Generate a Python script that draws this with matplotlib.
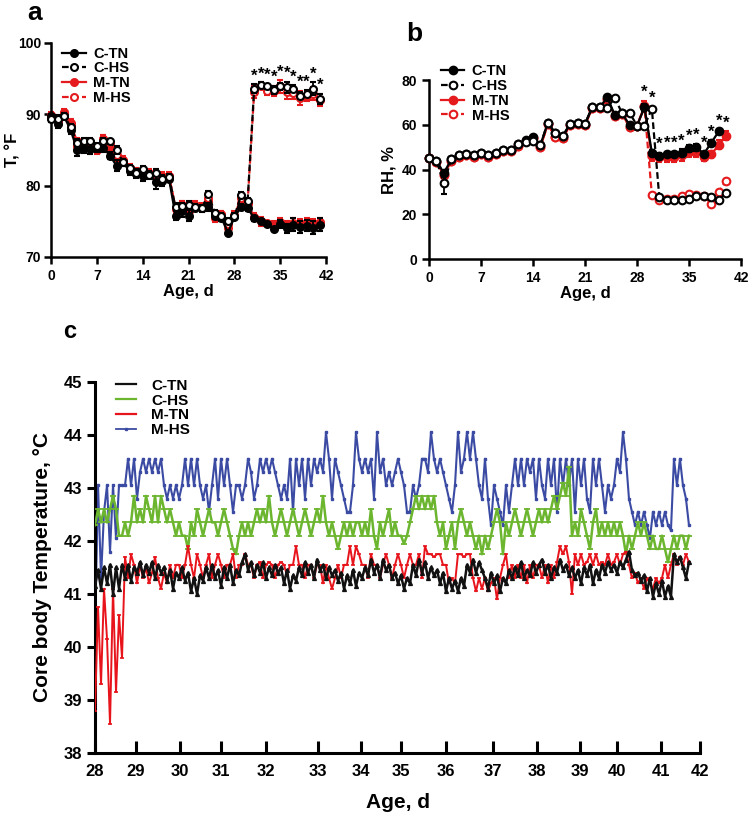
import numpy as np
import matplotlib.pyplot as plt
from matplotlib.lines import Line2D

plt.rcParams['font.family'] = ['Liberation Sans', 'DejaVu Sans']
plt.rcParams['font.weight'] = 'bold'
plt.rcParams['axes.labelweight'] = 'bold'

# ---- panel a: air temperature, F ----
days_a = list(range(42))
ctn_a = [89.7, 88.7, 89.7, 87.8, 85.0, 85.3, 85.2, 85.3, 85.3, 84.2, 82.8, 83.3, 82.0, 81.7,
         81.3, 81.5, 80.5, 80.7, 81.0, 75.8, 76.5, 75.8, 76.8, 76.8, 77.0, 75.8, 75.5, 73.4,
         75.6, 77.0, 76.9, 75.4, 75.0, 74.6, 73.9, 74.6, 74.0, 74.5, 74.2, 74.4, 74.1, 74.5]
chs_a = [89.3, 89.4, 89.8, 88.2, 86.0, 86.3, 86.3, 85.5, 86.3, 86.2, 85.0, 83.3, 82.5, 81.8,
         82.3, 81.5, 81.8, 81.0, 81.2, 77.0, 77.1, 77.3, 77.0, 76.8, 78.8, 76.2, 75.7, 75.0,
         75.7, 78.7, 77.8, 93.6, 94.1, 93.9, 93.4, 93.9, 93.8, 93.6, 92.6, 92.9, 93.6, 92.2]
mtn_a = [89.9, 89.2, 90.3, 88.8, 85.6, 85.5, 85.6, 85.0, 86.5, 85.5, 84.0, 83.6, 82.5, 82.0,
         81.6, 81.8, 81.2, 81.3, 81.4, 76.7, 77.3, 76.5, 77.3, 77.0, 77.8, 75.5, 76.0, 74.0,
         75.9, 77.6, 77.5, 75.6, 75.0, 74.7, 74.6, 74.9, 74.5, 74.8, 74.7, 74.9, 74.7, 74.9]
mhs_a = [89.5, 89.0, 90.1, 88.5, 86.2, 86.0, 86.1, 85.2, 86.6, 86.0, 84.3, 83.5, 82.4, 81.9,
         82.1, 81.7, 81.5, 81.2, 81.3, 76.9, 77.3, 77.0, 77.2, 76.9, 78.3, 75.9, 75.9, 74.6,
         75.8, 78.3, 77.6, 93.1, 94.0, 93.3, 93.2, 93.9, 93.1, 93.0, 92.3, 92.6, 92.9, 92.0]
ctn_a_err = [0.4, 0.6, 0.5, 0.5, 0.8, 0.7, 0.8, 0.6, 0.6, 0.5, 0.8, 0.5, 0.5, 0.6, 0.6, 0.5,
             0.9, 0.7, 0.4, 0.6, 0.9, 0.8, 0.4, 0.5, 0.6, 0.5, 0.4, 0.3, 0.4, 0.4, 0.4, 0.4,
             0.3, 0.3, 0.3, 0.6, 0.6, 0.9, 0.9, 0.8, 0.9, 0.9]
chs_a_err = [0.4, 0.5, 0.4, 0.5, 0.5, 0.4, 0.4, 0.5, 0.4, 0.4, 0.5, 0.5, 0.4, 0.4, 0.4, 0.4,
             0.5, 0.5, 0.4, 0.5, 0.5, 0.5, 0.4, 0.4, 0.4, 0.4, 0.4, 0.4, 0.4, 0.4, 0.4, 0.6,
             0.4, 0.4, 0.6, 0.5, 0.8, 0.5, 0.5, 0.5, 0.9, 0.7]
mtn_a_err = [0.4, 0.5, 0.5, 0.6, 0.6, 0.6, 0.7, 0.6, 0.6, 0.6, 0.6, 0.5, 0.5, 0.5, 0.5, 0.5,
             0.6, 0.6, 0.5, 0.6, 0.6, 0.6, 0.5, 0.5, 0.6, 0.6, 0.5, 0.5, 0.5, 0.5, 0.5, 0.6,
             0.6, 0.4, 0.4, 0.6, 0.6, 0.6, 0.6, 0.6, 0.6, 0.6]
mhs_a_err = [0.4, 0.5, 0.5, 0.5, 0.5, 0.5, 0.5, 0.5, 0.5, 0.5, 0.5, 0.5, 0.5, 0.5, 0.5, 0.5,
             0.5, 0.5, 0.5, 0.5, 0.5, 0.5, 0.5, 0.5, 0.5, 0.5, 0.5, 0.5, 0.5, 0.5, 0.5, 0.8,
             0.5, 0.6, 0.7, 0.9, 0.9, 0.8, 1.0, 0.7, 0.9, 0.9]
star_days_a = list(range(31, 42))

# ---- panel b: relative humidity, % ----
days_b = list(range(41))
nan = float('nan')
ctn_b = [45.0, 44.0, 38.4, 44.6, 46.4, 47.0, 46.5, 47.3, 46.5, 47.3, 48.8, 48.8, 51.3, 53.2,
         54.4, 51.0, 61.0, 56.2, 55.0, 60.4, 60.7, 60.4, 68.1, 67.8, 72.3, 64.4, 65.1, 59.9,
         59.6, 67.8, 47.6, 46.1, 47.0, 47.0, 47.6, 49.5, 50.0, 47.0, 52.0, 57.0, nan]
chs_b = [45.0, 44.0, 34.0, 44.6, 46.4, 47.0, 46.5, 47.3, 46.5, 47.3, 48.8, 48.8, 51.3, 52.2,
         52.6, 51.0, 61.0, 56.2, 55.0, 60.4, 60.7, 60.4, 68.1, 67.8, 67.5, 72.1, 65.1, 65.4,
         59.6, 59.6, 67.1, 27.7, 26.5, 26.5, 26.5, 27.0, 28.0, 28.0, 27.7, 26.3, 29.7]
mtn_b = [45.0, 43.5, 37.5, 44.0, 45.5, 46.5, 45.5, 47.0, 45.8, 47.0, 48.3, 48.5, 50.5, 52.8,
         54.0, 50.0, 60.5, 54.5, 54.0, 60.0, 60.4, 60.0, 67.5, 67.5, 71.5, 64.0, 64.8, 59.0,
         59.5, 68.2, 46.0, 45.5, 45.5, 45.5, 46.5, 48.0, 48.0, 45.5, 46.8, 51.0, 55.0]
mhs_b = [45.0, 43.5, 37.5, 44.0, 45.5, 46.5, 45.5, 47.0, 45.8, 47.0, 48.3, 48.5, 50.5, 52.8,
         54.0, 50.0, 60.5, 54.5, 54.0, 60.0, 60.4, 60.0, 67.5, 67.5, 71.5, 64.0, 64.8, 59.0,
         59.5, 68.2, 28.7, 26.5, 27.0, 27.0, 28.0, 29.0, 28.5, 28.0, 24.8, 30.0, 35.0]
ctn_b_err = [0.5, 0.5, 1.0, 0.5, 0.5, 0.5, 0.5, 0.5, 0.5, 0.5, 0.5, 0.5, 0.5, 0.5, 0.5, 0.5,
             0.8, 0.5, 0.5, 0.5, 0.5, 0.5, 0.5, 0.5, 0.5, 0.5, 0.5, 0.5, 0.5, 1.5, 1.0, 1.5,
             1.0, 1.0, 1.5, 1.5, 1.5, 1.0, 1.0, 1.0, nan]
chs_b_err = [0.5, 0.5, 5.0, 0.5, 0.5, 0.5, 0.5, 0.5, 0.5, 0.5, 0.5, 0.5, 0.5, 0.5, 0.5, 0.5,
             0.5, 0.5, 0.5, 0.5, 0.5, 0.5, 0.5, 0.5, 0.5, 0.5, 0.5, 0.5, 0.5, 0.5, 1.0, 0.8,
             0.5, 0.5, 0.5, 0.8, 0.5, 0.5, 1.0, 0.5, 0.8]
mtn_b_err = [0.5, 0.5, 1.0, 0.5, 0.5, 0.5, 0.5, 0.5, 0.5, 0.5, 0.5, 0.5, 0.5, 0.5, 0.5, 0.5,
             0.8, 0.5, 0.5, 0.5, 0.5, 0.5, 0.5, 0.5, 0.5, 0.5, 0.5, 0.5, 0.5, 2.5, 2.0, 2.0,
             2.0, 2.0, 2.5, 2.5, 2.5, 1.5, 1.5, 2.0, 2.0]
mhs_b_err = [0.5, 0.5, 1.0, 0.5, 0.5, 0.5, 0.5, 0.5, 0.5, 0.5, 0.5, 0.5, 0.5, 0.5, 0.5, 0.5,
             0.5, 0.5, 0.5, 0.5, 0.5, 0.5, 0.5, 0.5, 0.5, 0.5, 0.5, 0.5, 0.5, 0.5, 1.0, 0.8,
             0.8, 0.8, 0.8, 0.8, 0.8, 0.8, 1.5, 0.8, 0.8]
star_days_b = list(range(29, 41))

# ---- panel c: core body temperature, C (one reading every ~1.7 h) ----
ctn_c = [41.15, 41.45, 41.1, 41.5, 41.2, 41.55, 41.0, 41.5, 41.1, 41.55,
         41.3, 41.55, 41.25, 41.5, 41.4, 41.6, 41.35, 41.55, 41.4, 41.6,
         41.3, 41.55, 41.4, 41.5, 41.25, 41.45, 41.1, 41.4, 41.3, 41.5,
         41.25, 41.4, 41.05, 41.3, 41.0, 41.35, 41.25, 41.5, 41.3, 41.55,
         41.3, 41.45, 41.15, 41.5, 41.3, 41.55, 41.2, 41.45, 41.35, 41.6,
         41.75, 41.45, 41.6, 41.35, 41.55, 41.4, 41.6, 41.3, 41.5, 41.35,
         41.55, 41.4, 41.5, 41.2, 41.45, 41.1, 41.35, 41.25, 41.5, 41.35,
         41.6, 41.4, 41.55, 41.3, 41.65, 41.45, 41.55, 41.3, 41.5, 41.35,
         41.45, 41.25, 41.4, 41.1, 41.35, 41.2, 41.45, 41.15, 41.4, 41.3,
         41.5, 41.35, 41.65, 41.4, 41.55, 41.3, 41.65, 41.45, 41.55, 41.3,
         41.4, 41.2, 41.35, 41.1, 41.3, 41.2, 41.55, 41.35, 41.65, 41.4,
         41.6, 41.3, 41.5, 41.35, 41.45, 41.2, 41.4, 41.05, 41.3, 41.1,
         41.25, 41.05, 41.3, 41.15, 41.55, 41.4, 41.65, 41.4, 41.6, 41.45,
         41.3, 41.1, 41.4, 41.2, 41.35, 41.05, 41.3, 41.2, 41.45, 41.3,
         41.5, 41.35, 41.6, 41.3, 41.45, 41.35, 41.6, 41.4, 41.55, 41.65,
         41.4, 41.55, 41.3, 41.5, 41.4, 41.65, 41.45, 41.55, 41.35, 41.5,
         41.3, 41.45, 41.2, 41.5, 41.35, 41.55, 41.2, 41.45, 41.3, 41.55,
         41.4, 41.6, 41.45, 41.55, 41.4, 41.6, 41.5, 41.65, 41.8, 41.45,
         41.35, 41.4, 41.25, 41.35, 41.05, 41.3, 40.95, 41.2, 41.0, 41.25,
         40.95, 41.15, 40.95, 41.75, 41.6, 41.7, 41.5, 41.3, 41.6]
chs_c = [42.3, 42.6, 42.35, 42.6, 42.35, 42.6, 42.85, 42.6, 42.1, 42.1,
         42.35, 42.1, 42.35, 42.85, 42.35, 42.6, 42.35, 42.85, 42.6, 42.35,
         42.85, 42.35, 42.85, 42.6, 42.35, 42.6, 42.35, 42.1, 42.35, 42.1,
         42.1, 41.85, 42.35, 42.1, 42.6, 42.35, 42.1, 42.35, 42.6, 42.35,
         42.35, 42.1, 42.35, 42.6, 42.35, 42.1, 41.85, 41.75, 42.1, 42.35,
         42.1, 42.35, 42.1, 42.35, 42.6, 42.35, 42.6, 42.35, 42.85, 42.35,
         42.1, 42.35, 42.6, 42.35, 42.1, 42.35, 42.6, 42.35, 42.1, 42.35,
         42.6, 42.35, 42.1, 42.35, 42.6, 42.35, 42.85, 42.35, 42.1, 42.35,
         42.1, 41.85, 42.1, 42.35, 42.1, 42.35, 42.1, 42.35, 42.35, 42.1,
         42.35, 42.1, 42.6, 42.1, 41.85, 42.35, 42.1, 42.35, 42.6, 42.1,
         42.35, 42.1, 42.1, 41.95, 42.1, 42.35, 42.6, 42.85, 42.6, 42.85,
         42.6, 42.85, 42.6, 42.85, 42.35, 42.1, 42.35, 41.85, 42.1, 42.35,
         41.85, 42.35, 42.6, 42.35, 42.1, 42.35, 42.1, 41.85, 42.1, 41.75,
         42.1, 41.85, 42.1, 42.35, 42.6, 42.35, 41.75, 42.35, 42.1, 42.35,
         42.6, 42.35, 42.1, 42.35, 42.6, 42.35, 42.1, 42.35, 42.6, 42.35,
         42.6, 42.35, 42.6, 42.85, 42.6, 42.85, 43.1, 42.85, 43.4, 42.1,
         42.35, 42.1, 42.6, 42.35, 42.1, 41.85, 42.35, 42.6, 42.1, 42.35,
         42.1, 42.35, 42.1, 42.35, 42.1, 42.35, 42.1, 41.75, 42.1, 41.85,
         42.1, 42.35, 42.1, 42.35, 42.1, 41.85, 42.1, 41.85, 41.85, 42.1,
         41.85, 41.6, 41.85, 42.1, 41.85, 42.1, 42.1, 41.85, 42.1]
mtn_c = [38.8, 40.75, 39.3, 41.1, 40.15, 38.55, 41.1, 39.15, 40.6, 39.8,
         41.7, 41.3, 41.75, 41.55, 41.2, 41.55, 41.3, 41.5, 41.2, 41.4,
         41.7, 41.3, 41.1, 41.4, 41.2, 41.55, 41.3, 41.55, 41.55, 41.3,
         41.55, 41.9, 41.55, 41.3, 41.75, 41.55, 41.3, 41.55, 41.75, 41.3,
         41.55, 41.75, 41.55, 41.3, 41.55, 41.55, 41.75, 41.3, 41.55, 41.55,
         41.75, 41.55, 41.55, 41.3, 41.55, 41.6, 41.3, 41.55, 41.6, 41.55,
         41.3, 41.55, 41.6, 41.55, 41.35, 41.55, 41.55, 41.9, 41.55, 41.55,
         41.3, 41.55, 41.55, 41.3, 41.55, 41.55, 41.2, 41.55, 41.3, 41.1,
         41.3, 41.55, 41.3, 41.55, 41.55, 41.9, 41.55, 41.9, 41.75, 41.55,
         41.55, 41.3, 41.75, 41.55, 41.55, 41.3, 41.55, 41.75, 41.55, 41.3,
         41.55, 41.75, 41.55, 41.3, 41.55, 41.75, 41.55, 41.55, 41.75, 41.3,
         41.9, 41.75, 41.75, 41.7, 41.75, 41.75, 41.55, 41.55, 41.2, 41.3,
         41.2, 41.75, 41.75, 41.7, 41.75, 41.75, 41.3, 41.05, 41.3, 41.1,
         41.3, 41.05, 41.2, 41.3, 40.9, 41.3, 41.55, 41.75, 41.3, 41.55,
         41.3, 41.55, 41.3, 41.55, 41.2, 41.55, 41.3, 41.55, 41.55, 41.3,
         41.55, 41.2, 41.55, 41.3, 41.6, 41.9, 41.75, 41.9, 41.6, 41.0,
         41.75, 41.55, 41.75, 41.55, 41.6, 41.75, 41.55, 41.75, 41.55, 41.6,
         41.55, 41.75, 41.55, 41.6, 41.75, 41.55, 41.75, 41.8, 41.55, 41.3,
         41.4, 41.2, 41.3, 41.1, 41.3, 41.2, 41.1, 41.3, 41.2, 41.3,
         41.55, 41.3, 41.55, 41.75, 41.55, 41.7, 41.55, 41.75, 41.6]
mhs_c = [40.3, 43.05, 41.3, 42.55, 43.05, 41.8, 43.05, 42.05, 43.05, 43.05,
         43.05, 43.55, 43.05, 43.55, 42.8, 43.3, 43.55, 43.3, 43.55, 43.3,
         43.55, 43.3, 43.55, 43.05, 42.8, 43.05, 42.8, 43.05, 42.8, 43.05,
         43.55, 43.05, 43.55, 43.05, 43.55, 43.05, 42.8, 43.05, 42.55, 43.05,
         43.55, 42.8, 43.55, 43.05, 43.55, 43.05, 42.55, 43.05, 43.05, 42.8,
         43.05, 43.55, 43.3, 42.8, 43.05, 43.55, 43.3, 43.55, 43.3, 43.55,
         43.3, 43.05, 42.8, 43.05, 42.8, 43.55, 42.55, 43.55, 43.05, 43.55,
         42.8, 43.55, 43.05, 43.55, 43.3, 43.55, 43.3, 44.05, 43.55, 42.8,
         43.55, 43.3, 43.05, 42.8, 42.55, 42.55, 43.05, 44.05, 43.55, 43.3,
         43.55, 43.3, 43.55, 42.8, 44.05, 43.3, 43.55, 43.05, 43.3, 43.05,
         43.3, 43.55, 43.3, 43.05, 42.55, 42.55, 43.05, 42.8, 43.05, 43.55,
         43.55, 43.3, 44.05, 43.55, 43.3, 43.55, 43.3, 43.05, 42.8, 42.55,
         43.05, 44.05, 43.3, 43.55, 44.05, 43.55, 44.05, 43.55, 43.05, 42.8,
         43.55, 42.8, 42.3, 43.05, 42.8, 42.55, 42.3, 43.05, 42.55, 43.05,
         43.55, 43.05, 43.55, 43.05, 43.55, 43.3, 43.55, 42.8, 43.55, 43.05,
         42.8, 43.55, 43.05, 43.55, 42.55, 43.55, 43.05, 43.55, 43.05, 43.55,
         42.55, 43.55, 43.05, 43.55, 42.8, 42.55, 43.55, 43.05, 43.55, 43.05,
         42.55, 43.05, 42.8, 43.05, 43.55, 43.3, 44.05, 43.55, 42.8, 42.55,
         42.3, 42.55, 42.3, 42.55, 42.3, 42.05, 42.55, 42.3, 42.55, 42.3,
         42.55, 42.3, 42.2, 43.55, 43.05, 43.55, 43.05, 42.8, 42.3]
# age labels sit unevenly along the recording axis (reading index units)
age_c_labels = [28, 29, 30, 31, 32, 33, 34, 35, 36, 37, 38, 39, 40, 41, 42]
age_c_pos = [0, 13.7, 28.3, 42.0, 57.0, 74.3, 88.7, 102.0, 117.0, 132.7, 147.3, 161.7, 174.0, 188.7, 201.7]

fig = plt.figure(figsize=(7.5, 8.25), dpi=100)
ax_a = fig.add_axes([0.068, 0.6885, 0.367, 0.2594])
ax_b = fig.add_axes([0.572, 0.686, 0.416, 0.217])
ax_c = fig.add_axes([0.1267, 0.0873, 0.8067, 0.4497])


def style_axes(ax, lw=1.8, size=10):
    for s in ['top', 'right']:
        ax.spines[s].set_visible(False)
    for s in ['left', 'bottom']:
        ax.spines[s].set_linewidth(lw)
    ax.tick_params(width=lw, length=5, labelsize=size)
    for lab in ax.get_xticklabels() + ax.get_yticklabels():
        lab.set_fontweight('bold')


def draw_env(ax, days, series, ms):
    handles = []
    for vals, err, color, hs, z in series:
        kw = dict(fmt='o--' if hs else 'o-', color=color, ms=ms, lw=1.6,
                  mfc='white' if hs else color, mec=color, mew=1.5,
                  elinewidth=1.3, capsize=2.5, capthick=1.3, clip_on=False, zorder=z)
        if hs:
            kw['dashes'] = (3, 1.5)
        ax.errorbar(days, vals, yerr=err, **kw)
        handles.append(Line2D([], [], color=color, lw=1.6, marker='o', ms=ms,
                              mfc='white' if hs else color, mec=color, mew=1.5,
                              ls=(0, (3, 1.5)) if hs else '-'))
    return handles


# panel a
series_a = [(ctn_a, ctn_a_err, 'black', False, 4), (chs_a, chs_a_err, 'black', True, 5),
            (mtn_a, mtn_a_err, '#e41a1c', False, 2), (mhs_a, mhs_a_err, '#e41a1c', True, 3)]
h_a = draw_env(ax_a, days_a, series_a, 5)
ax_a.set_xlim(0, 42)
ax_a.set_ylim(70, 100)
ax_a.set_xticks(range(0, 43, 7))
ax_a.set_yticks([70, 80, 90, 100])
style_axes(ax_a)
ax_a.tick_params(axis='y', pad=2)
ax_a.set_xlabel('Age, d', fontsize=12, labelpad=1)
ax_a.set_ylabel('T, °F', fontsize=12)
ax_a.yaxis.set_label_coords(-0.11, 0.5)
for d in star_days_a:
    top = max(chs_a[d] + chs_a_err[d], mhs_a[d] + mhs_a_err[d])
    ax_a.text(d, top + 0.1, '*', ha='center', va='bottom', fontsize=12)
ax_a.legend(h_a, ['C-TN', 'C-HS', 'M-TN', 'M-HS'], loc='upper left', bbox_to_anchor=(0.02, 1.01),
            frameon=False, fontsize=10.5, handlelength=1.6, handletextpad=0.5,
            labelspacing=0.05, borderaxespad=0)

# panel b
series_b = [(ctn_b, ctn_b_err, 'black', False, 4), (chs_b, chs_b_err, 'black', True, 5),
            (mtn_b, mtn_b_err, '#e41a1c', False, 2), (mhs_b, mhs_b_err, '#e41a1c', True, 3)]
h_b = draw_env(ax_b, days_b, series_b, 5.5)
ax_b.set_xlim(0, 42)
ax_b.set_ylim(0, 80)
ax_b.set_xticks(range(0, 43, 7))
ax_b.set_yticks([0, 20, 40, 60, 80])
style_axes(ax_b)
ax_b.set_xlabel('Age, d', fontsize=12, labelpad=1)
ax_b.set_ylabel('RH, %', fontsize=12, labelpad=4)
for d in star_days_b:
    tops = [v[d] + e[d] for v, e in [(ctn_b, ctn_b_err), (chs_b, chs_b_err),
                                    (mtn_b, mtn_b_err), (mhs_b, mhs_b_err)]
            if not np.isnan(v[d])]
    ax_b.text(d, max(tops) + 0.3, '*', ha='center', va='bottom', fontsize=12)
ax_b.legend(h_b, ['C-TN', 'C-HS', 'M-TN', 'M-HS'], loc='upper left', bbox_to_anchor=(0.02, 1.12),
            frameon=False, fontsize=10.5, handlelength=1.6, handletextpad=0.5,
            labelspacing=0.05, borderaxespad=0)

# panel c
idx = np.arange(len(ctn_c))
ax_c.plot(idx, mhs_c, color='#3b4ba3', lw=1.5, marker='s', ms=2, label='M-HS', zorder=2)
ax_c.plot(idx, chs_c, color='#6cb52f', lw=1.8, marker='_', ms=4, mew=1.3, label='C-HS', zorder=3)
ax_c.plot(idx, mtn_c, color='#e8141c', lw=1.4, marker='_', ms=3.5, mew=1.2, label='M-TN', zorder=4)
ax_c.plot(idx, ctn_c, color='#111111', lw=1.8, marker='^', ms=2.8, label='C-TN', zorder=5)
ax_c.set_xlim(age_c_pos[0], age_c_pos[-1])
ax_c.set_ylim(38, 45)
ax_c.set_yticks(range(38, 46))
ax_c.set_xticks(age_c_pos)
ax_c.set_xticklabels([str(a) for a in age_c_labels])
style_axes(ax_c, lw=2.2, size=12)
ax_c.tick_params(axis='x', direction='in', length=9, pad=8)
ax_c.tick_params(axis='y', length=6)
for lab in ax_c.get_xticklabels():
    lab.set_fontfamily(['Liberation Sans Narrow', 'Liberation Sans'])
    lab.set_fontsize(12)
ax_c.set_xlabel('Age, d', fontsize=15, labelpad=10)
ax_c.set_ylabel('Core body Temperature, °C', fontsize=15, labelpad=8)
hc = [Line2D([], [], color='#111111', lw=1.6), Line2D([], [], color='#6cb52f', lw=1.6),
      Line2D([], [], color='#e8141c', lw=1.6),
      Line2D([], [], color='#3b4ba3', lw=1.3, marker='s', ms=2)]
ax_c.legend(hc, ['C-TN', 'C-HS', 'M-TN', 'M-HS'], loc='upper left', bbox_to_anchor=(0.025, 1.025),
            frameon=False, fontsize=11, handlelength=1.3, handletextpad=1.0,
            labelspacing=0.05, borderaxespad=0)

fig.text(27 / 750, 1 - 1 / 825, 'a', fontsize=19, fontweight='bold', va='top')
fig.text(406 / 750, 1 - 22 / 825, 'b', fontsize=19, fontweight='bold', va='top')
fig.text(63 / 750, 1 - 320 / 825, 'c', fontsize=17, fontweight='bold', va='top')

fig.savefig('out.png', dpi=100)
